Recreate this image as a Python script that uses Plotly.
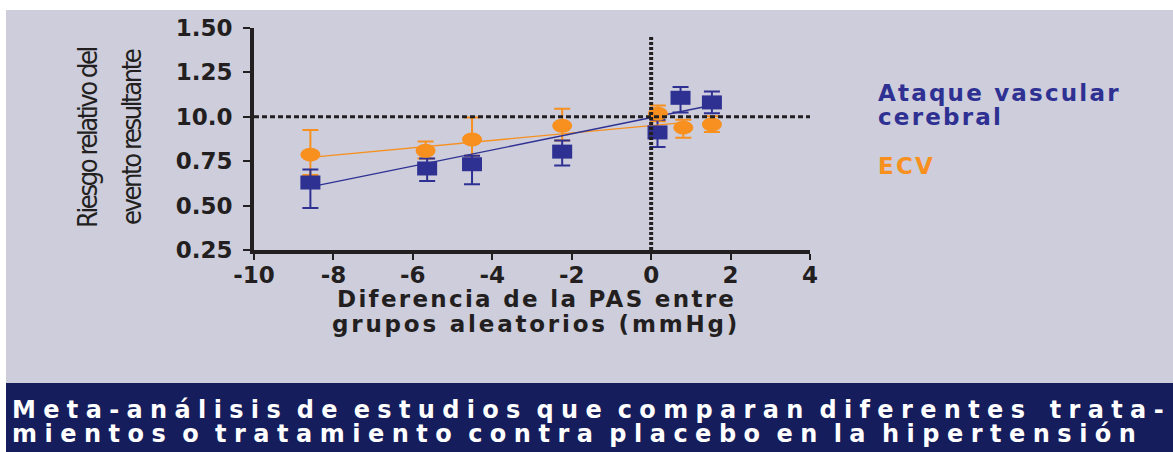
import plotly.graph_objects as go

# ---- data -------------------------------------------------------------
x_avc = [-8.58, -5.64, -4.51, -2.24, 0.16, 0.74, 1.53]
y_avc = [0.630, 0.709, 0.733, 0.804, 0.912, 1.107, 1.081]
lo_avc = [0.487, 0.639, 0.620, 0.726, 0.830, 1.024, 1.020]
hi_avc = [0.703, 0.765, 0.780, 0.867, 0.983, 1.168, 1.143]

x_ecv = [-8.58, -5.68, -4.51, -2.24, 0.17, 0.81, 1.53]
y_ecv = [0.787, 0.809, 0.872, 0.950, 1.017, 0.939, 0.957]
lo_ecv = [0.672, 0.765, 0.780, 0.867, 0.975, 0.882, 0.915]
hi_ecv = [0.926, 0.861, 0.996, 1.046, 1.064, 0.984, 1.003]

# fitted regression lines (end points)
fit_avc_x = [-8.58, 1.53]
fit_avc_y = [0.605, 1.065]
fit_ecv_x = [-8.58, 0.81]
fit_ecv_y = [0.772, 0.967]

y_tickvals = [0.25, 0.50, 0.75, 1.00, 1.25, 1.50]
y_ticktext = ["0.25", "0.50", "0.75", "10.0", "1.25", "1.50"]
x_tickvals = [-10, -8, -6, -4, -2, 0, 2, 4]
x_ticktext = ["-10", "-8", "-6", "-4", "-2", "0", "2", "4"]

ref_y = 1.0
ref_x = 0.0

# ---- styling ----------------------------------------------------------
W, H = 1173, 452
L, R, T, B = 254, 810, 28, 250   # plot area in pixels
BLUE = "#2E3192"
ORANGE = "#F7901E"
INK = "#231F20"
PANEL = "#CDCDDC"
NAVY = "#151D5C"


def px(xp):
    return (xp - L) / (R - L)


def py(yp):
    return (B - yp) / (B - T)


def spaced(text, ls, ws=None):
    style = f"letter-spacing:{ls}px"
    if ws is not None:
        style += f";word-spacing:{ws}px"
    return f"<span style='{style}'>{text}</span>"


fig = go.Figure()

# error bars
for xs, ys, lo, hi, col in [(x_ecv, y_ecv, lo_ecv, hi_ecv, ORANGE),
                            (x_avc, y_avc, lo_avc, hi_avc, BLUE)]:
    fig.add_trace(go.Scatter(
        x=xs, y=ys, mode="markers",
        marker=dict(size=2, color="rgba(0,0,0,0)"),
        error_y=dict(type="data", symmetric=False,
                     array=[h - v for h, v in zip(hi, ys)],
                     arrayminus=[v - l for v, l in zip(ys, lo)],
                     color=col, thickness=2, width=8),
        showlegend=False, hoverinfo="skip"))

# regression lines
fig.add_trace(go.Scatter(x=fit_ecv_x, y=fit_ecv_y, mode="lines",
                         line=dict(color=ORANGE, width=1.3),
                         showlegend=False, hoverinfo="skip"))
fig.add_trace(go.Scatter(x=fit_avc_x, y=fit_avc_y, mode="lines",
                         line=dict(color=BLUE, width=1.3),
                         showlegend=False, hoverinfo="skip"))

shapes = []
# panel background and bottom banner
shapes.append(dict(type="rect", xref="paper", yref="paper", layer="below",
                   x0=px(6), x1=px(W), y0=py(383), y1=py(10),
                   fillcolor=PANEL, line=dict(width=0)))
shapes.append(dict(type="rect", xref="paper", yref="paper", layer="below",
                   x0=px(6), x1=px(W), y0=py(H), y1=py(383),
                   fillcolor=NAVY, line=dict(width=0)))

# markers: orange ellipses and blue rectangles sized in pixels
for xv, yv in zip(x_ecv, y_ecv):
    shapes.append(dict(type="circle", xref="x", yref="y",
                       xsizemode="pixel", ysizemode="pixel",
                       xanchor=xv, yanchor=yv,
                       x0=-10, x1=10, y0=-7, y1=7,
                       fillcolor=ORANGE, line=dict(width=0)))
for xv, yv in zip(x_avc, y_avc):
    shapes.append(dict(type="rect", xref="x", yref="y",
                       xsizemode="pixel", ysizemode="pixel",
                       xanchor=xv, yanchor=yv,
                       x0=-10, x1=10, y0=-7, y1=7,
                       fillcolor=BLUE, line=dict(width=0)))

# reference lines
shapes.append(dict(type="line", xref="x", yref="y",
                   x0=-10, x1=4, y0=ref_y, y1=ref_y,
                   line=dict(color=INK, width=3, dash="5px,3px")))
shapes.append(dict(type="line", xref="x", yref="y",
                   x0=ref_x, x1=ref_x, y0=0.25, y1=1.455,
                   line=dict(color=INK, width=4, dash="3px,2px")))

narrow = "Liberation Sans Narrow, DejaVu Sans Condensed, sans-serif"
annotations = [
    # y axis title, two rotated lines
    dict(text=spaced("Riesgo relativo del", -2.4), x=px(87), y=py(138),
         textangle=-90, font=dict(family=narrow, size=27, color=INK)),
    dict(text=spaced("evento resultante", -2.4), x=px(131), y=py(137),
         textangle=-90, font=dict(family=narrow, size=27, color=INK)),
    # x axis title
    dict(text=spaced("Diferencia de la PAS entre", 2.3), x=px(536), y=py(299),
         font=dict(family="DejaVu Sans", size=23, color=INK, weight="bold")),
    dict(text=spaced("grupos aleatorios (mmHg)", 2.8), x=px(536), y=py(324),
         font=dict(family="DejaVu Sans", size=23, color=INK, weight="bold")),
    # series labels
    dict(text=spaced("Ataque vascular", 2.2), x=px(876), y=py(93), xanchor="left",
         font=dict(family="DejaVu Sans", size=23, color=BLUE, weight="bold")),
    dict(text=spaced("cerebral", 2.2), x=px(876), y=py(117), xanchor="left",
         font=dict(family="DejaVu Sans", size=23, color=BLUE, weight="bold")),
    dict(text=spaced("ECV", 2.2), x=px(876), y=py(166), xanchor="left",
         font=dict(family="DejaVu Sans", size=23, color=ORANGE, weight="bold")),
    # banner
    dict(text=spaced("Meta-análisis de estudios que comparan diferentes  trata-", 7.35, -7),
         x=px(10), y=py(410), xanchor="left",
         font=dict(family="DejaVu Sans", size=24, color="white", weight="bold")),
    dict(text=spaced("mientos o tratamiento contra placebo en la hipertensión", 7.5, -7),
         x=px(10), y=py(434), xanchor="left",
         font=dict(family="DejaVu Sans", size=24, color="white", weight="bold")),
]
for a in annotations:
    a.update(xref="paper", yref="paper", showarrow=False)
    a.setdefault("xanchor", "center")
    a.setdefault("yanchor", "middle")

tickfont = dict(family="DejaVu Sans", size=23, color=INK, weight="bold")

fig.update_layout(
    width=W, height=H,
    margin=dict(l=L, r=W - R, t=T, b=H - B, pad=0),
    paper_bgcolor="white", plot_bgcolor="rgba(0,0,0,0)",
    shapes=shapes, annotations=annotations,
    xaxis=dict(range=[-10, 4], tickvals=x_tickvals, ticktext=x_ticktext,
               showgrid=False, zeroline=False, showline=True,
               linecolor=INK, linewidth=4, ticks="outside", ticklen=6,
               tickwidth=2, tickcolor=INK, tickfont=tickfont,
               ticklabelstandoff=-5),
    yaxis=dict(range=[0.25, 1.5], tickvals=y_tickvals, ticktext=y_ticktext,
               showgrid=False, zeroline=False, showline=True,
               linecolor=INK, linewidth=4, ticks="outside", ticklen=7,
               tickwidth=2, tickcolor=INK, tickfont=tickfont,
               ticklabelstandoff=6),
)

fig.write_html("out.html")
